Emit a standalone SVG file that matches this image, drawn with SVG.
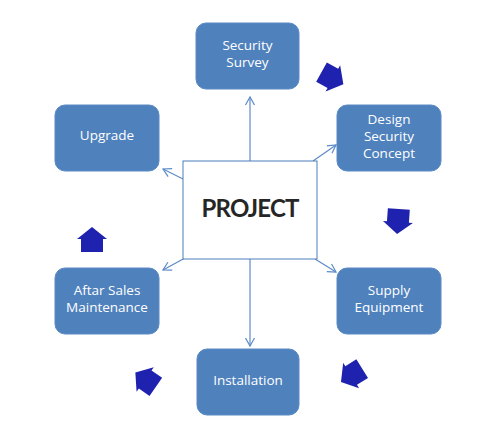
<svg xmlns="http://www.w3.org/2000/svg" width="493" height="439" viewBox="0 0 493 439">
<defs>
<style>
.node rect{fill:#4F81BD;stroke:#5A8AC6;stroke-width:1}
.node text{fill:#fff;font-family:"Open Sans","Noto Sans",sans-serif;font-size:13.5px;text-anchor:middle}
.conn line{stroke:#5B8AC8;stroke-width:1.2;fill:none}
.blk{fill:#1F22AF}
</style>
<marker id="ah" markerUnits="userSpaceOnUse" markerWidth="12" markerHeight="12" refX="9" refY="5" orient="auto" viewBox="0 0 12 10">
<path d="M1,0.5 L9,5 L1,9.5" fill="none" stroke="#5B8AC8" stroke-width="1.2"/>
</marker>
<path id="blkarrow" d="M0,-13 L15,-1 L11,-1 L11,12 L-11,12 L-11,-1 L-15,-1 Z"/>
</defs>
<rect width="493" height="439" fill="#fff"/>
<g id="connectors" class="conn">
<line x1="250" y1="161" x2="250" y2="97" marker-end="url(#ah)"/>
<line x1="313" y1="161" x2="336" y2="145" marker-end="url(#ah)"/>
<line x1="250" y1="259" x2="250" y2="346" marker-end="url(#ah)"/>
<line x1="185" y1="258" x2="163" y2="270" marker-end="url(#ah)"/>
<line x1="315" y1="259" x2="336" y2="272" marker-end="url(#ah)"/>
<line x1="183" y1="179" x2="163" y2="169" marker-end="url(#ah)"/>
</g>
<g id="flow-arrows" class="blk">
<use href="#blkarrow" transform="translate(332,78) rotate(119)"/>
<use href="#blkarrow" transform="translate(398,221) rotate(184)"/>
<use href="#blkarrow" transform="translate(352,375) rotate(238)"/>
<use href="#blkarrow" transform="translate(146,380) rotate(-55)"/>
<use href="#blkarrow" transform="translate(92,240)"/>
</g>
<g id="project">
<rect x="183" y="161" width="134" height="98" fill="#fff" stroke="#4F7FBC" stroke-width="1"/>
<text x="250" y="217" font-family="Lato,'Open Sans',sans-serif" font-weight="bold" font-size="24" fill="#262626" text-anchor="middle" letter-spacing="-0.8">PROJECT</text>
</g>
<g id="security-survey" class="node">
<rect x="196" y="23" width="103" height="66" rx="10"/>
<text x="247.5" y="50">Security</text>
<text x="247.5" y="67">Survey</text>
</g>
<g id="design-security-concept" class="node">
<rect x="337" y="105" width="104" height="66" rx="10"/>
<text x="389" y="124">Design</text>
<text x="389" y="141">Security</text>
<text x="389" y="158">Concept</text>
</g>
<g id="supply-equipment" class="node">
<rect x="337" y="268" width="104" height="66" rx="10"/>
<text x="389" y="295">Supply</text>
<text x="389" y="312">Equipment</text>
</g>
<g id="installation" class="node">
<rect x="197" y="349" width="102" height="66" rx="10"/>
<text x="248" y="385">Installation</text>
</g>
<g id="aftar-sales-maintenance" class="node">
<rect x="55" y="268" width="104" height="66" rx="10"/>
<text x="107" y="295">Aftar Sales</text>
<text x="107" y="312">Maintenance</text>
</g>
<g id="upgrade" class="node">
<rect x="55" y="105" width="104" height="66" rx="10"/>
<text x="107" y="140">Upgrade</text>
</g>
</svg>
